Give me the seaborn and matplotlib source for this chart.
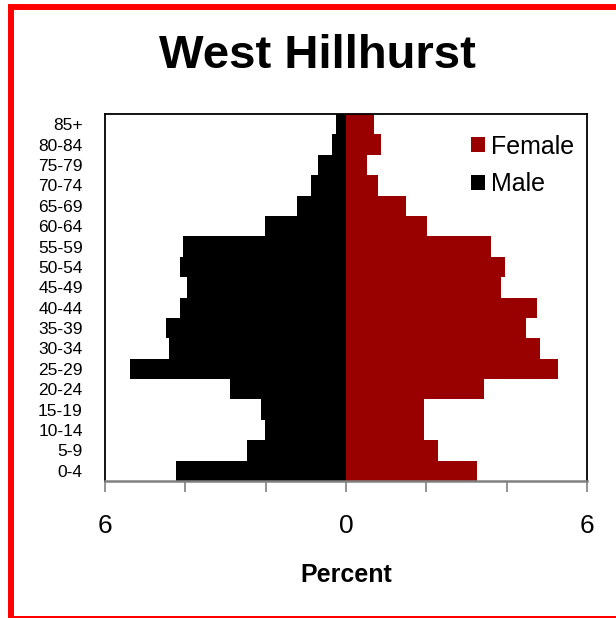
import matplotlib
matplotlib.use("Agg")
import matplotlib.pyplot as plt
import matplotlib.patches as mpatches
import pandas as pd
import seaborn as sns

# возрастные группы сверху вниз
age_groups = ["85+", "80-84", "75-79", "70-74", "65-69", "60-64", "55-59", "50-54",
              "45-49", "40-44", "35-39", "30-34", "25-29", "20-24", "15-19", "10-14",
              "5-9", "0-4"]
male_pct = [0.26, 0.34, 0.70, 0.88, 1.23, 2.01, 4.05, 4.13, 3.96, 4.13, 4.49, 4.40,
            5.37, 2.90, 2.11, 2.01, 2.46, 4.23]
female_pct = [0.70, 0.88, 0.52, 0.80, 1.50, 2.02, 3.62, 3.96, 3.87, 4.76, 4.49, 4.84,
              5.28, 3.44, 1.95, 1.95, 2.29, 3.26]

x_ticks = [-6, -4, -2, 0, 2, 4, 6]
x_tick_labels = ["6", "", "", "0", "", "", "6"]

sns.set_theme(style="white")
plt.rcParams["font.family"] = ["Liberation Sans", "DejaVu Sans"]
plt.rcParams["text.color"] = "black"
plt.rcParams["axes.labelcolor"] = "black"
plt.rcParams["xtick.labelcolor"] = "black"
plt.rcParams["ytick.labelcolor"] = "black"

df = pd.concat([
    pd.DataFrame({"age": age_groups, "sex": "Female", "pct": female_pct}),
    pd.DataFrame({"age": age_groups, "sex": "Male", "pct": [-v for v in male_pct]}),
])

fig = plt.figure(figsize=(6.16, 6.18), dpi=100)
ax = fig.add_axes([105 / 616, 1 - 481 / 618, 482 / 616, 367 / 618])

sns.barplot(data=df, x="pct", y="age", hue="sex", order=age_groups,
            hue_order=["Female", "Male"], palette={"Female": "#990000", "Male": "black"},
            saturation=1, orient="h", dodge=False, width=1.0, linewidth=0, ax=ax)

ax.set_xlim(-6, 6)
ax.set_xticks(x_ticks)
ax.set_xticklabels(x_tick_labels, fontsize=19)
ax.tick_params(axis="x", direction="out", length=8, width=1.2, color="#808080", pad=16,
               bottom=True)
ax.tick_params(axis="y", length=0, labelsize=12.5, pad=16)
ax.set_ylabel("")
ax.set_xlabel("Percent", fontsize=18, fontweight="bold", labelpad=18)

for side in ["left", "top", "right"]:
    ax.spines[side].set_color("black")
    ax.spines[side].set_linewidth(1.3)
ax.spines["bottom"].set_color("#808080")
ax.spines["bottom"].set_linewidth(1.8)

handles, labels = ax.get_legend_handles_labels()
ax.legend(handles, labels, loc="upper right", bbox_to_anchor=(1.005, 0.985), frameon=False,
          fontsize=18, handlelength=0.55, handleheight=0.55, handletextpad=0.25,
          labelspacing=0.55, borderaxespad=0.2)

fig.text(317 / 616, 1 - 56 / 618, "West Hillhurst", ha="center", va="center",
         fontsize=34, fontweight="bold")

# красная рамка вокруг картинки
border = mpatches.Rectangle((11 / 616, -1 / 618), 1.1, 1 - 6 / 618,
                            transform=fig.transFigure, fill=False, edgecolor="#ff0000",
                            linewidth=4.3)
fig.patches.append(border)

fig.savefig("out.png", dpi=100)
